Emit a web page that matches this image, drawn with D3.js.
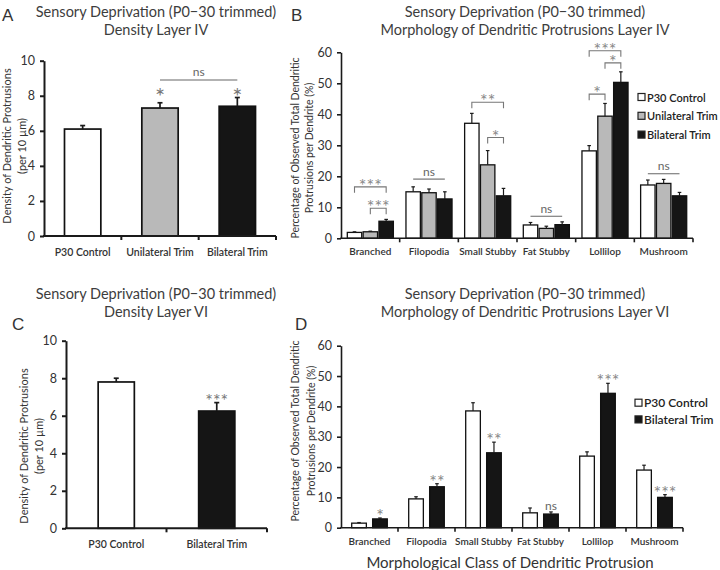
<!DOCTYPE html>
<html><head><meta charset="utf-8">
<script src="https://cdn.jsdelivr.net/npm/d3@7"></script>
<style>body{margin:0;background:#fff} svg{display:block}</style>
</head><body><svg id="c" width="720" height="570"></svg>
<script>
// ---------- DATA ----------
const densityTicks = [0, 2, 4, 6, 8, 10];
const morphTicks = [0, 10, 20, 30, 40, 50, 60];

// Panel A: Density Layer IV
const groupsA = ["P30 Control", "Unilateral Trim", "Bilateral Trim"];
const valuesA = [6.1, 7.3, 7.4];
const errorsA = [0.2, 0.3, 0.5];
const sigA = ["", "*", "*"];
const sigLevelA = 7.5;
const nsLevelA = 8.9;

// Panel C: Density Layer VI
const groupsC = ["P30 Control", "Bilateral Trim"];
const valuesC = [7.8, 6.25];
const errorsC = [0.2, 0.45];
const sigC = ["", "***"];

// Panels B & D: morphology classes
const classes = ["Branched", "Filopodia", "Small Stubby", "Fat Stubby", "Lollilop", "Mushroom"];

// Panel B: Layer IV
const seriesB = ["P30 Control", "Unilateral Trim", "Bilateral Trim"];
const controlB = [1.9, 15.0, 37.1, 4.3, 28.2, 17.2];
const unilateralB = [2.1, 14.7, 23.7, 3.2, 39.4, 17.7];
const bilateralB = [5.5, 12.7, 13.7, 4.4, 50.3, 13.7];
const controlBErr = [0.2, 1.6, 3.2, 0.8, 1.7, 1.6];
const unilateralBErr = [0.2, 1.2, 4.6, 0.7, 4.1, 1.3];
const bilateralBErr = [0.6, 2.3, 2.4, 0.9, 3.4, 1.1];
const bracketsB = [
  {cls: "Branched", a: "P30 Control", b: "Bilateral Trim", level: 16.6, label: "***", legs: true},
  {cls: "Branched", a: "Unilateral Trim", b: "Bilateral Trim", level: 9.7, label: "***", legs: true},
  {cls: "Filopodia", a: "P30 Control", b: "Bilateral Trim", level: 19.1, label: "ns", legs: false},
  {cls: "Small Stubby", a: "P30 Control", b: "Bilateral Trim", level: 43.9, label: "**", legs: true},
  {cls: "Small Stubby", a: "Unilateral Trim", b: "Bilateral Trim", level: 32.5, label: "*", legs: true},
  {cls: "Fat Stubby", a: "P30 Control", b: "Bilateral Trim", level: 7.1, label: "ns", legs: false},
  {cls: "Lollilop", a: "P30 Control", b: "Bilateral Trim", level: 60.5, label: "***", legs: true},
  {cls: "Lollilop", a: "Unilateral Trim", b: "Bilateral Trim", level: 56.6, label: "*", legs: true},
  {cls: "Lollilop", a: "P30 Control", b: "Unilateral Trim", level: 46.5, label: "*", legs: true},
  {cls: "Mushroom", a: "P30 Control", b: "Bilateral Trim", level: 20.8, label: "ns", legs: false}
];

// Panel D: Layer VI
const seriesD = ["P30 Control", "Bilateral Trim"];
const controlD = [1.5, 9.5, 38.5, 4.9, 23.6, 19.0];
const bilateralD = [2.9, 13.5, 24.7, 4.5, 44.3, 10.0];
const controlDErr = [0.2, 0.7, 2.7, 1.6, 1.4, 1.6];
const bilateralDErr = [0.3, 1.0, 3.5, 0.7, 3.3, 0.9];
const sigD = ["*", "**", "**", "ns", "***", "***"];

const titleLine1 = "Sensory Deprivation (P0\u221230 trimmed)";
const titleA = "Density Layer IV";
const titleB = "Morphology of Dendritic Protrusions Layer IV";
const titleC = "Density Layer VI";
const titleD = "Morphology of Dendritic Protrusions Layer VI";
const yLabelDensity = ["Density of Dendritic Protrusions", "(per 10 \u00b5m)"];
const yLabelMorph = ["Percentage of Observed Total Dendritic", "Protrusions per Dendrite (%)"];
const xLabelD = "Morphological Class of Dendritic Protrusion";

// ---------- DRAWING ----------
const FONT = "Lato, 'Open Sans', sans-serif";
const fills = {"P30 Control": "#ffffff", "Unilateral Trim": "#b9b9b9", "Bilateral Trim": "#151515"};
const svg = d3.select("#c");

function txt(g, x, y, s, o = {}) {
  return g.append("text").attr("x", x).attr("y", y).text(s)
    .attr("font-family", FONT).attr("font-size", o.size || 12)
    .attr("font-weight", o.weight || "normal")
    .attr("fill", o.fill || "#333")
    .attr("text-anchor", o.anchor || "middle");
}

function titles(cx, y1, l1, l2) {
  txt(svg, cx, y1, l1, {size: 14.5, fill: "#3d3d3d"});
  txt(svg, cx, y1 + 17.5, l2, {size: 14.5, fill: "#3d3d3d"});
}

function panelLetter(x, y, s) {
  txt(svg, x, y, s, {size: 17, fill: "#333", anchor: "start"}).attr("font-family", "'Liberation Sans', Arial, sans-serif").attr("font-weight", 300);
}

function yLabel(x1, x2, cy, lines, size) {
  lines.forEach((l, i) => {
    const x = i === 0 ? x1 : x2;
    txt(svg, 0, 0, l, {size: size, fill: "#333"})
      .attr("transform", `translate(${x},${cy}) rotate(-90)`)
      .attr("dominant-baseline", "central");
  });
}

function yAxis(g, y, x0, ticks, sw) {
  const ax = d3.axisLeft(y).tickValues(ticks).tickSize(4).tickSizeOuter(0).tickPadding(5).tickFormat(d3.format("d"));
  const a = g.append("g").attr("transform", `translate(${x0},0)`).call(ax);
  a.select(".domain").attr("stroke", "#1a1a1a").attr("stroke-width", sw);
  a.selectAll(".tick line").attr("stroke", "#1a1a1a").attr("stroke-width", sw);
  a.selectAll(".tick text").attr("font-family", FONT).attr("font-size", 12.5).attr("fill", "#333");
}

function xAxisLine(g, x, y0, left, right, sw) {
  g.append("line").attr("x1", left - sw / 2).attr("x2", right).attr("y1", y0).attr("y2", y0)
    .attr("stroke", "#1a1a1a").attr("stroke-width", sw);
  const step = x.step();
  x.domain().forEach((d, i) => {
    const bx = left + step * (i + 1);
    g.append("line").attr("x1", bx).attr("x2", bx).attr("y1", y0).attr("y2", y0 + 4)
      .attr("stroke", "#1a1a1a").attr("stroke-width", sw);
  });
}

function errBar(g, cx, yv, ye, sw, cap) {
  g.append("line").attr("x1", cx).attr("x2", cx).attr("y1", yv).attr("y2", ye)
    .attr("stroke", "#1a1a1a").attr("stroke-width", sw);
  g.append("line").attr("x1", cx - cap).attr("x2", cx + cap).attr("y1", ye).attr("y2", ye)
    .attr("stroke", "#1a1a1a").attr("stroke-width", sw);
}

function drawDensity(o) {
  const g = svg.append("g");
  const x = d3.scaleBand().domain(o.groups).range([o.left, o.right]).paddingInner(o.pad).paddingOuter(o.pad / 2);
  const y = d3.scaleLinear().domain([0, 10]).range([o.bottom, o.top]);
  g.selectAll("rect.bar").data(o.groups).join("rect").attr("class", "bar")
    .attr("x", d => x(d)).attr("width", x.bandwidth())
    .attr("y", (d, i) => y(o.values[i])).attr("height", (d, i) => y(0) - y(o.values[i]))
    .attr("fill", d => fills[d]).attr("stroke", "#111").attr("stroke-width", 1.7);
  o.groups.forEach((d, i) => {
    const cx = x(d) + x.bandwidth() / 2;
    errBar(g, cx, y(o.values[i]), y(o.values[i] + o.errors[i]), 1.7, 2.5);
  });
  yAxis(g, y, o.left, densityTicks, 2);
  xAxisLine(g, x, y(0), o.left, o.right, 2);
  o.groups.forEach(d => {
    txt(g, x(d) + x.bandwidth() / 2, y(0) + 20, d, {size: 10.5, weight: 600, fill: "#333"});
  });
  // significance
  o.groups.forEach((d, i) => {
    if (!o.sig[i]) return;
    const cx = x(d) + x.bandwidth() / 2;
    const yy = o.sigLevel != null ? y(o.sigLevel) : y(o.values[i] + o.errors[i]) + 4;
    txt(g, cx, yy, o.sig[i], {size: o.starSize, fill: "#777"});
  });
  if (o.nsPair) {
    const xa = x(o.nsPair[0]) + x.bandwidth() / 2, xb = x(o.nsPair[1]) + x.bandwidth() / 2;
    g.append("line").attr("x1", xa).attr("x2", xb).attr("y1", y(o.nsLevel)).attr("y2", y(o.nsLevel))
      .attr("stroke", "#666").attr("stroke-width", 1.1);
    txt(g, (xa + xb) / 2, y(o.nsLevel) - 4, "ns", {size: 12, fill: "#666"});
  }
}

function drawMorph(o) {
  const g = svg.append("g");
  const x = d3.scaleBand().domain(classes).range([o.left, o.right]);
  const xs = d3.scaleBand().domain(o.series).range([o.inset, x.step() - o.inset]).paddingInner(o.inner);
  const y = d3.scaleLinear().domain([0, 60]).range([o.bottom, o.top]);
  const cxOf = (cls, s) => x(cls) + xs(s) + xs.bandwidth() / 2;
  o.series.forEach((s, si) => {
    g.selectAll(null).data(classes).join("rect")
      .attr("x", d => x(d) + xs(s)).attr("width", xs.bandwidth())
      .attr("y", (d, i) => y(o.values[si][i])).attr("height", (d, i) => y(0) - y(o.values[si][i]))
      .attr("fill", fills[s]).attr("stroke", "#111").attr("stroke-width", 1.3);
    classes.forEach((d, i) => {
      errBar(g, cxOf(d, s), y(o.values[si][i]), y(o.values[si][i] + o.errors[si][i]), 1.2, 1.8);
    });
  });
  yAxis(g, y, o.left, morphTicks, 1.6);
  xAxisLine(g, x, y(0), o.left, o.right, 1.6);
  classes.forEach(d => {
    txt(g, x(d) + x.step() / 2, y(0) + 17, d, {size: 10, weight: 600, fill: "#333"});
  });
  // brackets
  (o.brackets || []).forEach(b => {
    const xa = cxOf(b.cls, b.a), xb = cxOf(b.cls, b.b), yy = y(b.level);
    if (b.legs) {
      g.append("path").attr("d", `M${xa},${yy + 6}V${yy}H${xb}V${yy + 6}`)
        .attr("fill", "none").attr("stroke", "#777").attr("stroke-width", 1.1);
    } else {
      g.append("line").attr("x1", xa).attr("x2", xb).attr("y1", yy).attr("y2", yy)
        .attr("stroke", "#666").attr("stroke-width", 1.1);
    }
    if (b.label === "ns") txt(g, (xa + xb) / 2, yy - 3.5, "ns", {size: 12, fill: "#666"});
    else txt(g, (xa + xb) / 2, yy + 5, b.label, {size: 18, fill: "#888"});
  });
  // per-bar significance (top of last series)
  if (o.sig) {
    const last = o.series[o.series.length - 1], li = o.series.length - 1;
    classes.forEach((d, i) => {
      const top = y(o.values[li][i] + o.errors[li][i]);
      if (o.sig[i] === "ns") txt(g, cxOf(d, last), top - 2, "ns", {size: 12, fill: "#666"});
      else txt(g, cxOf(d, last), top + 4, o.sig[i], {size: 18, fill: "#888"});
    });
  }
  // legend
  o.series.forEach((s, i) => {
    const ly = o.legendY + i * o.legendGap;
    g.append("rect").attr("x", o.legendX).attr("y", ly - 3.5).attr("width", 7).attr("height", 7)
      .attr("fill", fills[s]).attr("stroke", "#222").attr("stroke-width", 1.2);
    txt(g, o.legendX + 9, ly, s, {size: o.legendSize, weight: 600, fill: "#222", anchor: "start"})
      .attr("dominant-baseline", "central");
  });
}

// ---------- PANELS ----------
titles(156, 17, titleLine1, titleA);
titles(525, 17, titleLine1, titleB);
titles(156, 299, titleLine1, titleC);
titles(525, 299, titleLine1, titleD);
panelLetter(2, 21, "A");
panelLetter(291, 21, "B");
panelLetter(12, 330, "C");
panelLetter(295, 330, "D");

drawDensity({groups: groupsA, values: valuesA, errors: errorsA, sig: sigA, sigLevel: sigLevelA, starSize: 24,
  nsPair: ["Unilateral Trim", "Bilateral Trim"], nsLevel: nsLevelA,
  left: 44, right: 276, top: 60.7, bottom: 236, pad: 0.53});
yLabel(6, 21, 146, yLabelDensity, 11);

drawDensity({groups: groupsC, values: valuesC, errors: errorsC, sig: sigC, starSize: 18,
  left: 66, right: 267, top: 340.7, bottom: 528.3, pad: 0.64});
yLabel(23, 38, 446, yLabelDensity, 11);

drawMorph({series: seriesB, values: [controlB, unilateralB, bilateralB],
  errors: [controlBErr, unilateralBErr, bilateralBErr], brackets: bracketsB,
  left: 341, right: 693, top: 52.3, bottom: 238.3, inset: 6.3, inner: 0.09,
  legendX: 638, legendY: 97, legendGap: 18.8, legendSize: 11});
yLabel(295, 309, 148, yLabelMorph, 10.5);

drawMorph({series: seriesD, values: [controlD, bilateralD], errors: [controlDErr, bilateralDErr], sig: sigD,
  left: 341, right: 683, top: 345.7, bottom: 527.7, inset: 10.7, inner: 0.3,
  legendX: 635, legendY: 402.7, legendGap: 16.7, legendSize: 12});
yLabel(295, 311, 431, yLabelMorph, 10.5);

txt(svg, 510, 568, xLabelD, {size: 15, fill: "#333"});
</script></body></html>
